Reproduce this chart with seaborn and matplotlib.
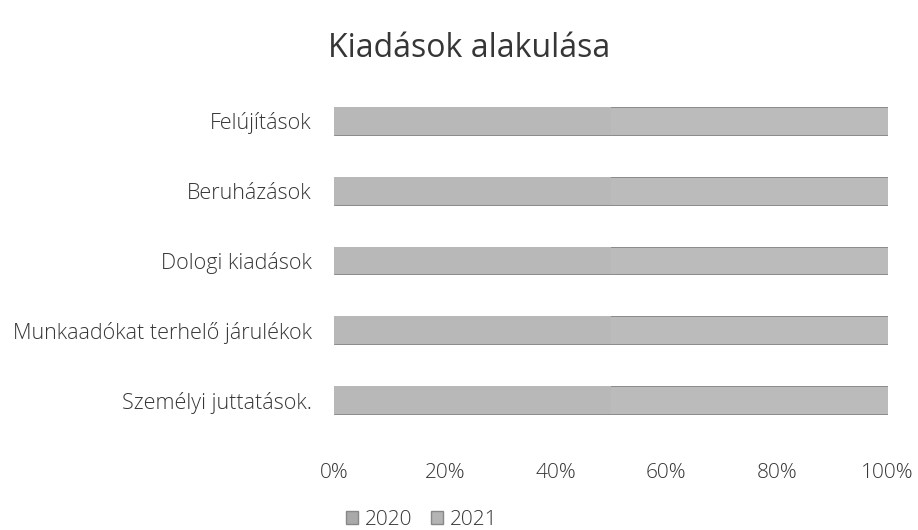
import matplotlib
matplotlib.use("Agg")
import matplotlib.pyplot as plt
import seaborn as sns
import pandas as pd
from matplotlib.patches import Patch
from matplotlib.ticker import PercentFormatter

categories = ['Felújítások', 'Beruházások', 'Dologi kiadások',
              'Munkaadókat terhelő járulékok', 'Személyi juttatások.']
share_2020 = [50, 50, 50, 50, 50]
share_2021 = [50, 50, 50, 50, 50]

df = pd.DataFrame({'Kategória': categories, '2020': share_2020, '2021': share_2021})
df['Összesen'] = df['2020'] + df['2021']

sns.set_style('white')
plt.rcParams['font.family'] = ['Open Sans', 'DejaVu Sans']
plt.rcParams['font.weight'] = 'light'

color_2020 = '#b8b8b8'
color_2021 = '#bbbbbb'
text_color = '#363636'

fig = plt.figure(figsize=(9.18, 5.30), dpi=100)
ax = fig.add_axes([0.364, 0.179, 0.603, 0.659])

# stacked: total first (2021 on the right), then 2020 on top from zero
sns.barplot(data=df, y='Kategória', x='Összesen', color=color_2021, width=0.4,
            edgecolor='#8a8a8a', linewidth=0.7, ax=ax, orient='h')
sns.barplot(data=df, y='Kategória', x='2020', color=color_2020, width=0.4,
            linewidth=0, ax=ax, orient='h')

ax.set_xlim(0, 100)
ax.set_ylim(4.5, -0.5)
ax.xaxis.set_major_formatter(PercentFormatter(decimals=0))
ax.set_xticks([0, 20, 40, 60, 80, 100])
ax.set_xlabel('')
ax.set_ylabel('')
ax.tick_params(axis='x', labelsize=15, colors=text_color, pad=20, length=0)
ax.tick_params(axis='y', labelsize=15.5, colors=text_color, pad=16, length=0)
for side in ax.spines.values():
    side.set_visible(False)

fig.suptitle('Kiadások alakulása', x=0.511, y=0.94, fontsize=23, color=text_color)

handles = [Patch(facecolor='#a9a9a9', edgecolor='#888888', label='2020'),
           Patch(facecolor='#b4b4b4', edgecolor='#888888', label='2021')]
fig.legend(handles=handles, loc='lower center', bbox_to_anchor=(0.459, -0.035), ncol=2,
           frameon=False, fontsize=15, handlelength=0.6, handleheight=0.6,
           handletextpad=0.3, columnspacing=0.9, labelcolor=text_color)

fig.savefig('out.png', dpi=100)
